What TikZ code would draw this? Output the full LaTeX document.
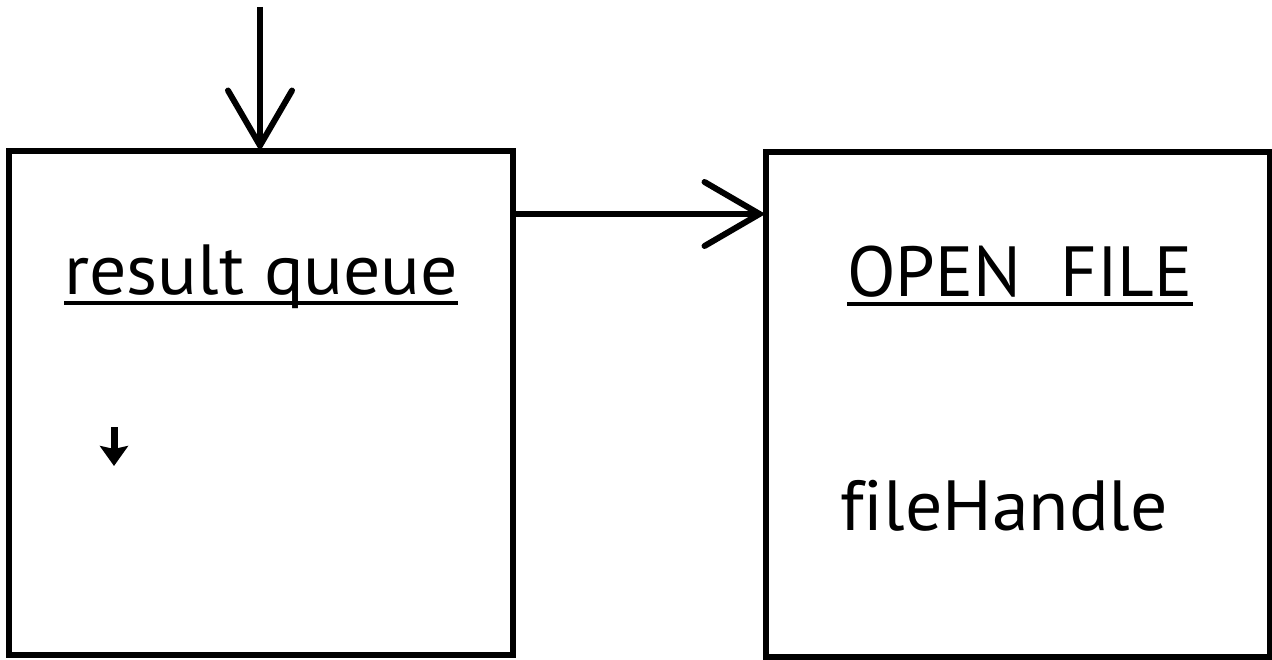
\documentclass[tikz,border=0pt]{standalone}
\usepackage{fontspec}
\setmainfont{PT Sans}[Ligatures=NoCommon]
\newfontfamily\widesans{PT Sans}[Ligatures=NoCommon, FakeStretch=1.04]
\usetikzlibrary{arrows.meta}
\tikzset{
  box/.style={draw=black, line width=6pt, inner sep=0pt, outer sep=0pt, anchor=north west},
  label/.style={inner sep=0pt, anchor=base west, font=\fontsize{71}{85}\selectfont},
  widelabel/.style={label, font=\widesans\fontsize{71}{85}\selectfont},
  uline/.style={line width=3.5pt},
  flow/.style={line width=6pt, -{Straight Barb[length=55pt,width=64pt,line cap=round]}},
  mini/.style={line width=7pt, -{Stealth[length=20pt,width=28pt,inset=3pt]}}
}
\begin{document}
\begin{tikzpicture}[x=1pt,y=-1pt]
  \useasboundingbox (0,0) rectangle (1272,660);
  % the two boxes
  \node[box, minimum width=504pt, minimum height=503pt] (queue) at (8.5,151.5) {};
  \node[box, minimum width=504pt, minimum height=505pt] (file) at (765.5,152) {};
  % titles and contents
  \node[widelabel] (qtitle) at (64,295) {result queue};
  \draw[uline] ([yshift=-8pt]qtitle.base west) -- ([yshift=-8pt]qtitle.base east);
  \node[label] (ftitle) at (847,297) {OPEN\hspace{0.55em}FILE};
  \draw[uline] ([yshift=-7pt]ftitle.base west) -- ([yshift=-7pt]ftitle.base east);
  \node[widelabel] (handle) at (840,530) {fileHandle};
  % arrows
  \coordinate (in) at (260,7);
  \draw[flow] (in) -- (queue.north -| in);
  \coordinate (qout) at (queue.east |- 0,214);
  \draw[flow] (qout) -- (file.west |- qout);
  \coordinate (ms) at (114,427);
  \coordinate (me) at (114,466);
  \draw[mini] (ms) -- (me);
\end{tikzpicture}
\end{document}
